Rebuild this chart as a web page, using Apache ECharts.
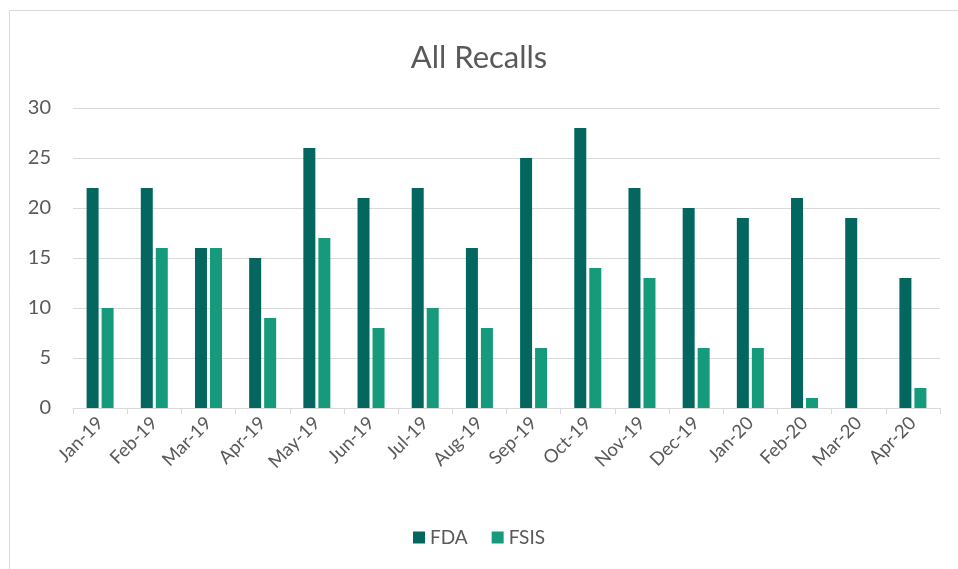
<!DOCTYPE html>
<html><head><meta charset="utf-8">
<script src="https://cdn.jsdelivr.net/npm/echarts@6/dist/echarts.min.js"></script>
<style>html,body{margin:0;padding:0;background:#fff}#c{width:958px;height:569px}</style>
</head><body><div id="c"></div>
<script>
const categories = ['Jan-19','Feb-19','Mar-19','Apr-19','May-19','Jun-19','Jul-19','Aug-19','Sep-19','Oct-19','Nov-19','Dec-19','Jan-20','Feb-20','Mar-20','Apr-20'];
const fdaValues = [22,22,16,15,26,21,22,16,25,28,22,20,19,21,19,13];
const fsisValues = [10,16,16,9,17,8,10,8,6,14,13,6,6,1,0,2];
const yTicks = [0,5,10,15,20,25,30];

const chart = echarts.init(document.getElementById('c'), null, {renderer:'canvas'});
const font = 'Lato, "Open Sans", sans-serif';
chart.setOption({
  animation:false,
  textStyle:{fontFamily:font},
  graphic:[{type:'rect',shape:{x:9.5,y:10.5,width:960,height:570},style:{fill:'none',stroke:'#d9d9d9',lineWidth:1},silent:true}],
  title:{text:'All Recalls',left:'center',top:37,textStyle:{fontFamily:font,fontSize:31,fontWeight:'normal',color:'#595959'}},
  legend:{bottom:17,left:'center',itemWidth:12,itemHeight:12,itemGap:24,icon:'rect',
    textStyle:{fontFamily:font,fontSize:19,color:'#595959'},data:['FDA','FSIS']},
  grid:{left:73,right:18,top:108,bottom:161,containLabel:false},
  xAxis:{type:'category',data:categories,
    axisLine:{lineStyle:{color:'#d9d9d9',width:1}},
    axisTick:{show:true,length:6,lineStyle:{color:'#d9d9d9'}},
    axisLabel:{rotate:45,fontSize:18.5,color:'#595959',margin:12,fontFamily:font,interval:0}},
  yAxis:{type:'value',min:0,max:30,interval:5,
    axisLine:{show:false},axisTick:{show:false},
    splitLine:{lineStyle:{color:'#d9d9d9',width:1}},
    axisLabel:{fontSize:20,color:'#595959',margin:22,fontFamily:font,
      formatter:v=>yTicks.includes(v)?String(v):''}},
  series:[
    {name:'FDA',type:'bar',data:fdaValues,barWidth:12,barGap:'25%',itemStyle:{color:'#03675f'}},
    {name:'FSIS',type:'bar',data:fsisValues,barWidth:12,barGap:'25%',itemStyle:{color:'#169a7c'}}
  ]
});
</script></body></html>
